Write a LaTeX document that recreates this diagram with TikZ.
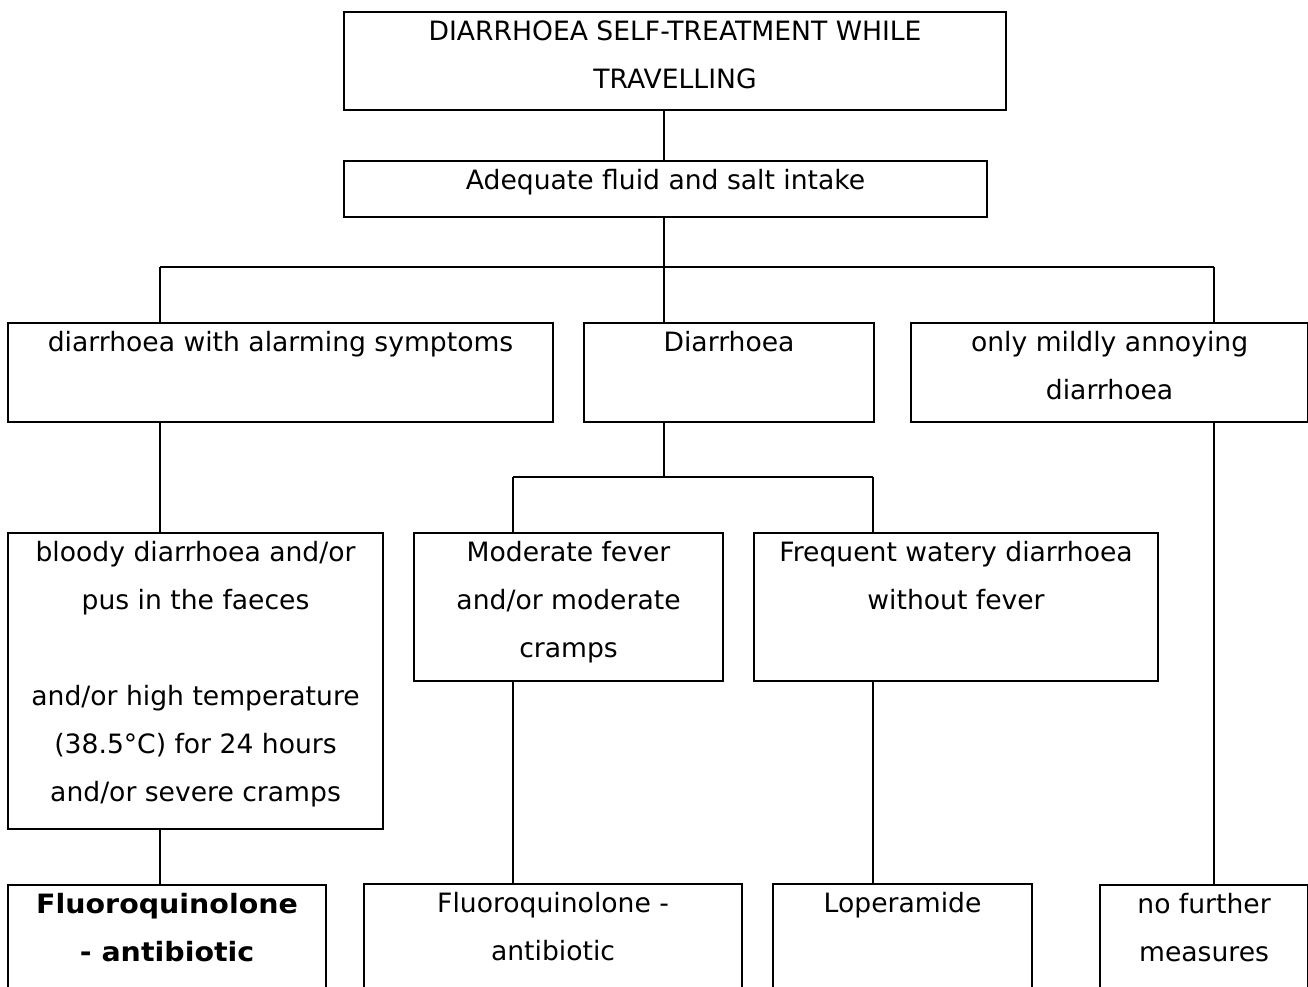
\documentclass[tikz,border=0pt]{standalone}
\usepackage{fontspec}
\setmainfont{DejaVu Sans}
\newcommand{\widebold}{\bfseries\addfontfeature{FakeStretch=1.07}}
\newcommand{\firstline}{\rule{0pt}{28pt}}
\newcommand{\boxtext}[3]{\parbox[t][#2pt][t]{#1pt}{\centering\firstline #3}}
\begin{document}
\begin{tikzpicture}[x=1pt,y=-1pt,
  box/.style={draw, line width=2.1pt, rectangle, inner sep=0pt, anchor=north west,
    font=\fontsize{26.6}{48}\selectfont},
  conn/.style={line width=2.1pt}]
\useasboundingbox (0,0) rectangle (1308,987);
\clip (0,0) rectangle (1308,987);
\fill[white] (0,0) rectangle (1308,987);
% boxes
\node[box] (t) at (343,11) {\boxtext{662}{98}{DIARRHOEA SELF-TREATMENT WHILE\\TRAVELLING}};
\node[box] (n2) at (343,160) {\boxtext{643}{56}{Adequate fluid and salt intake}};
\node[box] (a3) at (7,322) {\boxtext{545}{99}{diarrhoea with alarming symptoms}};
\node[box] (b3) at (583,322) {\boxtext{290}{99}{Diarrhoea}};
\node[box] (c3) at (910,322) {\boxtext{397}{99}{only mildly annoying\\diarrhoea}};
\node[box] (a4) at (7,532) {\boxtext{375}{296}{bloody diarrhoea and/or\\pus in the faeces\\\mbox{}\\and/or high temperature\\(38.5°C) for 24 hours\\and/or severe cramps}};
\node[box] (b4) at (413,532) {\boxtext{309}{148}{Moderate fever\\and/or moderate\\cramps}};
\node[box] (c4) at (753,532) {\boxtext{404}{148}{Frequent watery diarrhoea\\without fever}};
\node[box] (a5) at (7,884) {\boxtext{318}{200}{\widebold Fluoroquinolone\\- antibiotic}};
\node[box] (b5) at (363,883) {\boxtext{378}{200}{Fluoroquinolone -\\antibiotic}};
\node[box] (c5) at (772,883) {\boxtext{259}{200}{Loperamide}};
\node[box] (d5) at (1099,884) {\boxtext{208}{200}{no further\\measures}};
% junction coordinates
\coordinate (h1l) at (160,267);
\coordinate (h1m) at (664,267);
\coordinate (h1r) at (1214,267);
\coordinate (h2l) at (513,477);
\coordinate (h2m) at (664,477);
\coordinate (h2r) at (873,477);
% connectors
\draw[conn] (t.south -| h1m) -- (n2.north -| h1m);
\draw[conn] (n2.south -| h1m) -- (h1m);
\draw[conn] (h1l) -- (h1r);
\draw[conn] (h1l) -- (h1l |- a3.north);
\draw[conn] (h1m) -- (h1m |- b3.north);
\draw[conn] (h1r) -- (h1r |- c3.north);
\draw[conn] (a3.south -| h1l) -- (a4.north -| h1l);
\draw[conn] (b3.south -| h2m) -- (h2m);
\draw[conn] (h2l) -- (h2r);
\draw[conn] (h2l) -- (h2l |- b4.north);
\draw[conn] (h2r) -- (h2r |- c4.north);
\draw[conn] (a4.south -| h1l) -- (a5.north -| h1l);
\draw[conn] (b4.south -| h2l) -- (b5.north -| h2l);
\draw[conn] (c4.south -| h2r) -- (c5.north -| h2r);
\draw[conn] (c3.south -| h1r) -- (d5.north -| h1r);
\end{tikzpicture}
\end{document}
